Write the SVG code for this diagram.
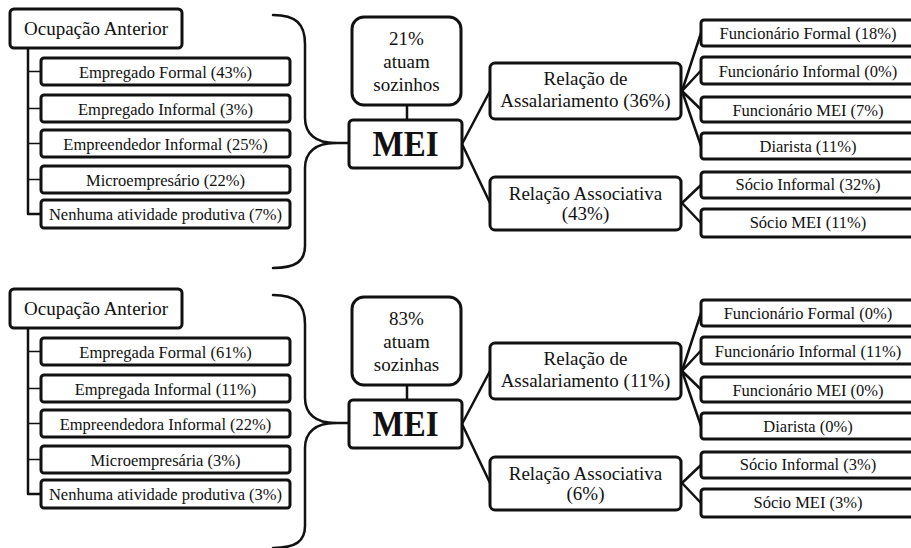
<svg xmlns="http://www.w3.org/2000/svg" width="911" height="548" viewBox="0 0 911 548">
  <style>
    .box { fill: #fff; stroke: #111; stroke-width: 3; }
    .wire { fill: none; stroke: #111; stroke-width: 2.5; stroke-linecap: round; stroke-linejoin: round; }
    .tick { fill: none; stroke: #111; stroke-width: 1.5; }
    .lbl { font-family: "Liberation Serif", Tinos, "Times New Roman", "DejaVu Serif", serif; font-weight: normal; fill: #111; text-anchor: middle; }
    .t19 { font-size: 19px; }
    .t16 { font-size: 16.5px; }
    .mei { font-size: 36px; font-weight: bold; }
  </style>
  <defs>
    <!-- one panel: previous occupation list, brace, MEI node and its relations -->
    <g id="panel-frame">
      <path class="wire" d="M28,48 L28,214 L41,214"/>
      <path class="tick" d="M28,71.5 H41 M28,108.5 H41 M28,143.5 H41 M28,179.5 H41"/>
      <path class="wire" d="M273,15 C296,15 305,24 305,44 L305,118 C305,134 316,143 335,143 C316,143 305,152 305,168 L305,246 C305,261 296,268 273,268"/>
      <path class="wire" d="M335,143 H349"/>
      <path class="wire" d="M407,105 V120"/>
      <path class="wire" d="M462,144 L490,91 M462,144 L490,203"/>
      <path class="wire" d="M682,91 L701,33 M682,91 L701,70.5 M682,91 L701,109.5 M682,91 L701,146"/>
      <path class="wire" d="M682,203 L701,185 M682,203 L701,223"/>
    </g>
  </defs>

  <!-- Top panel -->
  <g id="panel-1" class="lbl">
    <g id="connectors-1"><use href="#panel-frame"/></g>
    <g id="ocupacao-1"><rect class="box" x="10" y="9" width="172" height="39" rx="4"/><text class="t19" x="96" y="35">Ocupação Anterior</text></g>
    <g id="occ-1a"><rect class="box" x="41" y="58" width="249" height="27" rx="3"/><text class="t16" x="165.5" y="77.5">Empregado Formal (43%)</text></g>
    <g id="occ-1b"><rect class="box" x="41" y="95" width="249" height="27" rx="3"/><text class="t16" x="165.5" y="114.5">Empregado Informal (3%)</text></g>
    <g id="occ-1c"><rect class="box" x="41" y="130" width="249" height="27" rx="3"/><text class="t16" x="165.5" y="149.5">Empreendedor Informal (25%)</text></g>
    <g id="occ-1d"><rect class="box" x="41" y="166" width="249" height="27" rx="3"/><text class="t16" x="165.5" y="185.5">Microempresário (22%)</text></g>
    <g id="occ-1e"><rect class="box" x="41" y="200" width="249" height="28" rx="3"/><text class="t16" x="165.5" y="220">Nenhuma atividade produtiva (7%)</text></g>
    <g id="sozinhos-1"><rect class="box" x="352" y="17" width="109" height="88" rx="12"/>
      <text class="t19" x="406.5" y="45">21%</text><text class="t19" x="406.5" y="68">atuam</text><text class="t19" x="406.5" y="91">sozinhos</text></g>
    <g id="mei-1"><rect class="box" x="349" y="120" width="113" height="48" rx="4"/><text class="mei" x="405.5" y="156" textLength="66" lengthAdjust="spacingAndGlyphs">MEI</text></g>
    <g id="assal-1"><rect class="box" x="490" y="63" width="191" height="56" rx="5"/>
      <text class="t19" x="585.5" y="85">Relação de</text><text class="t19" x="585.5" y="107">Assalariamento (36%)</text></g>
    <g id="assoc-1"><rect class="box" x="490" y="177" width="191" height="53" rx="5"/>
      <text class="t19" x="585.5" y="200">Relação Associativa</text><text class="t19" x="585.5" y="220">(43%)</text></g>
    <g id="f-1a"><rect class="box" x="701" y="20" width="214" height="26" rx="3"/><text class="t16" x="808" y="39">Funcionário Formal (18%)</text></g>
    <g id="f-1b"><rect class="box" x="701" y="57" width="214" height="27" rx="3"/><text class="t16" x="808" y="76.5">Funcionário Informal (0%)</text></g>
    <g id="f-1c"><rect class="box" x="701" y="97" width="214" height="25" rx="3"/><text class="t16" x="808" y="115.5">Funcionário MEI (7%)</text></g>
    <g id="f-1d"><rect class="box" x="701" y="133" width="214" height="26" rx="3"/><text class="t16" x="808" y="152">Diarista (11%)</text></g>
    <g id="s-1a"><rect class="box" x="701" y="172" width="214" height="26" rx="3"/><text class="t16" x="808" y="190">Sócio Informal (32%)</text></g>
    <g id="s-1b"><rect class="box" x="701" y="209" width="214" height="28" rx="3"/><text class="t16" x="808" y="228">Sócio MEI (11%)</text></g>
  </g>

  <!-- Bottom panel -->
  <g id="panel-2" class="lbl" transform="translate(0,280)">
    <g id="connectors-2"><use href="#panel-frame"/></g>
    <g id="ocupacao-2"><rect class="box" x="10" y="9" width="172" height="39" rx="4"/><text class="t19" x="96" y="35">Ocupação Anterior</text></g>
    <g id="occ-2a"><rect class="box" x="41" y="58" width="249" height="27" rx="3"/><text class="t16" x="165.5" y="77.5">Empregada Formal (61%)</text></g>
    <g id="occ-2b"><rect class="box" x="41" y="95" width="249" height="27" rx="3"/><text class="t16" x="165.5" y="114.5">Empregada Informal (11%)</text></g>
    <g id="occ-2c"><rect class="box" x="41" y="130" width="249" height="27" rx="3"/><text class="t16" x="165.5" y="149.5">Empreendedora Informal (22%)</text></g>
    <g id="occ-2d"><rect class="box" x="41" y="166" width="249" height="27" rx="3"/><text class="t16" x="165.5" y="185.5">Microempresária (3%)</text></g>
    <g id="occ-2e"><rect class="box" x="41" y="200" width="249" height="28" rx="3"/><text class="t16" x="165.5" y="220">Nenhuma atividade produtiva (3%)</text></g>
    <g id="sozinhas-2"><rect class="box" x="352" y="17" width="109" height="88" rx="12"/>
      <text class="t19" x="406.5" y="45">83%</text><text class="t19" x="406.5" y="68">atuam</text><text class="t19" x="406.5" y="91">sozinhas</text></g>
    <g id="mei-2"><rect class="box" x="349" y="120" width="113" height="48" rx="4"/><text class="mei" x="405.5" y="156" textLength="66" lengthAdjust="spacingAndGlyphs">MEI</text></g>
    <g id="assal-2"><rect class="box" x="490" y="63" width="191" height="56" rx="5"/>
      <text class="t19" x="585.5" y="85">Relação de</text><text class="t19" x="585.5" y="107">Assalariamento (11%)</text></g>
    <g id="assoc-2"><rect class="box" x="490" y="177" width="191" height="53" rx="5"/>
      <text class="t19" x="585.5" y="200">Relação Associativa</text><text class="t19" x="585.5" y="220">(6%)</text></g>
    <g id="f-2a"><rect class="box" x="701" y="20" width="214" height="26" rx="3"/><text class="t16" x="808" y="39">Funcionário Formal (0%)</text></g>
    <g id="f-2b"><rect class="box" x="701" y="57" width="214" height="27" rx="3"/><text class="t16" x="808" y="76.5">Funcionário Informal (11%)</text></g>
    <g id="f-2c"><rect class="box" x="701" y="97" width="214" height="25" rx="3"/><text class="t16" x="808" y="115.5">Funcionário MEI (0%)</text></g>
    <g id="f-2d"><rect class="box" x="701" y="133" width="214" height="26" rx="3"/><text class="t16" x="808" y="152">Diarista (0%)</text></g>
    <g id="s-2a"><rect class="box" x="701" y="172" width="214" height="26" rx="3"/><text class="t16" x="808" y="190">Sócio Informal (3%)</text></g>
    <g id="s-2b"><rect class="box" x="701" y="209" width="214" height="28" rx="3"/><text class="t16" x="808" y="228">Sócio MEI (3%)</text></g>
  </g>
</svg>
